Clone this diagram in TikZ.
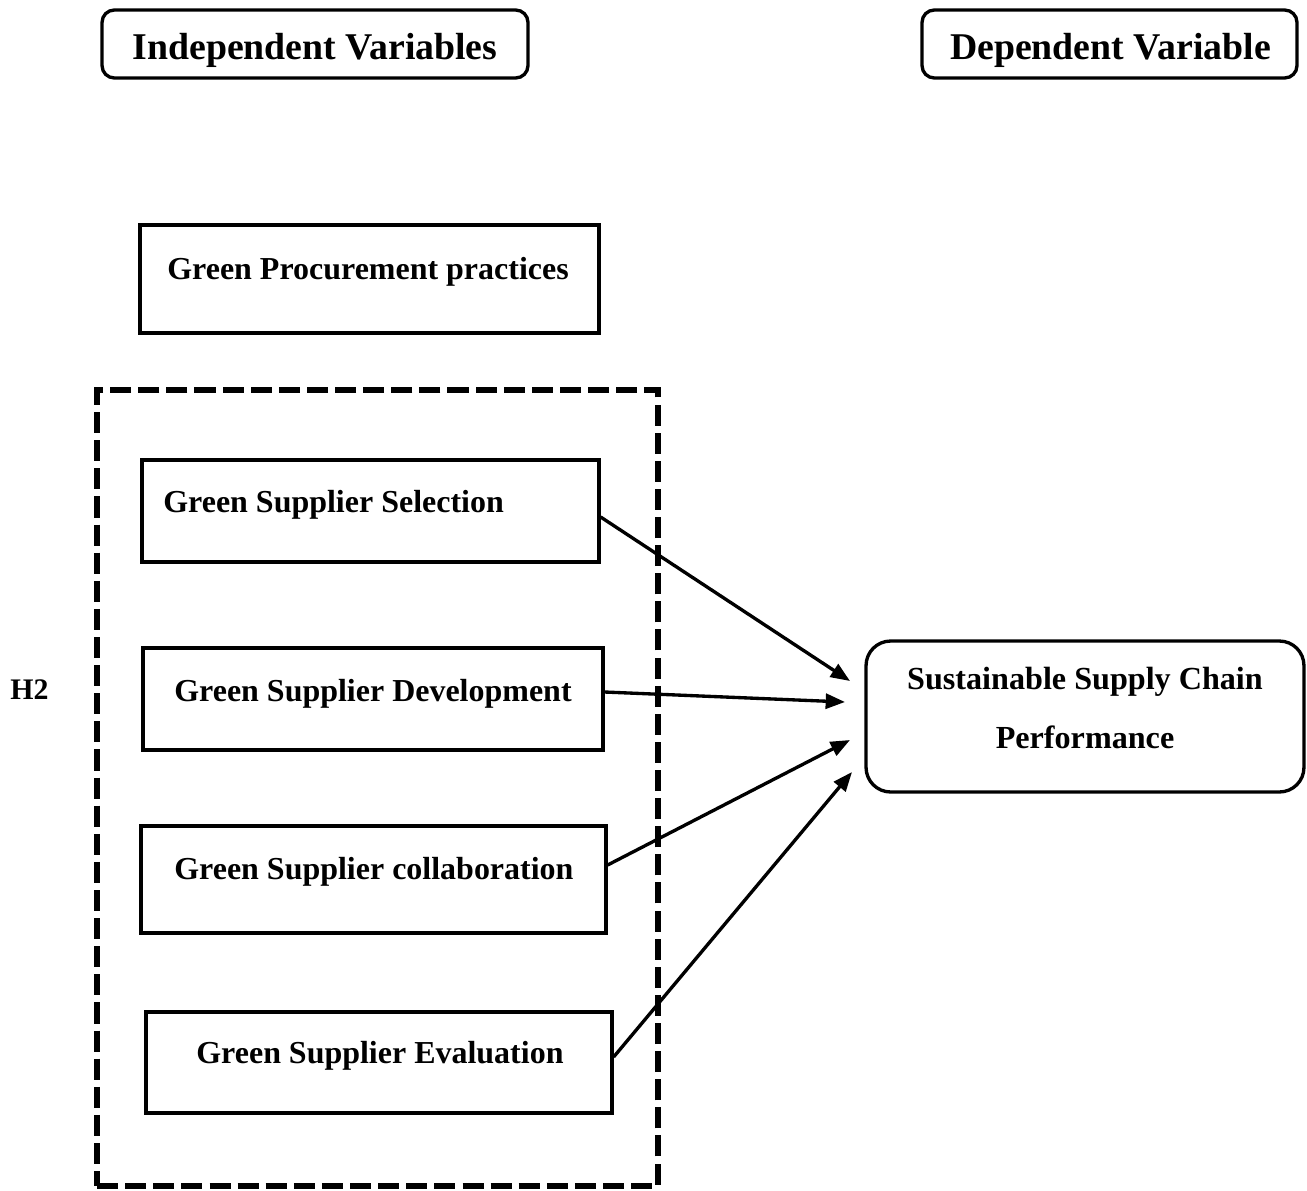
\documentclass[tikz,border=0pt]{standalone}
\usepackage{fontspec}
\setmainfont{Liberation Serif}
\usetikzlibrary{arrows.meta, positioning}

\begin{document}
\begin{tikzpicture}[
	x=0.02cm, y=-0.02cm,
	head box/.style={draw, line width=1.9pt, rounded corners=7pt, inner sep=0pt},
	head label/.style={anchor=base, inner sep=0pt, font=\fontsize{21.5}{25}\selectfont\bfseries},
	var box/.style={draw, line width=1.9pt, inner sep=0pt},
	var label/.style={anchor=base west, inner sep=0pt, font=\fontsize{18.2}{22}\selectfont\bfseries},
	group box/.style={draw, line width=3.3pt, dash pattern=on 12pt off 4pt, inner sep=0pt},
	effect arrow/.style={-{Triangle[length=11pt, width=8.5pt]}, line width=1.9pt},
	]
	
	\useasboundingbox (0,0) rectangle (1307,1190);
	
	% Headers
	\node[head box, minimum width=8.52cm, minimum height=1.36cm] (indep) at (315,44) {};
	\node[head label] (indeplabel) at (315,59) {Independent Variables};
	\node[head box, minimum width=7.5cm, minimum height=1.36cm] (dep) at (1109.5,44) {};
	\node[head label] (deplabel) at (1110.5,59) {Dependent Variable};
	
	% LEFT SIDE - Independent variables
	\node[var box, minimum width=9.18cm, minimum height=2.16cm] (gpp) at (369.5,279) {};
	\node[var label] (gpplabel) at (167,279) {Green Procurement practices};
	
	\node[group box, minimum width=11.22cm, minimum height=15.92cm] (group) at (377.5,788) {};
	
	\node[var box, minimum width=9.14cm, minimum height=2.04cm] (sel) at (370.5,511) {};
	\node[var label] (sellabel) at (163,512) {Green Supplier Selection};
	
	\node[var box, minimum width=9.2cm, minimum height=2.04cm] (dev) at (373,699) {};
	\node[var label] (devlabel) at (174,701) {Green Supplier Development};
	
	\node[var box, minimum width=9.3cm, minimum height=2.14cm] (col) at (373.5,879.5) {};
	\node[var label] (collabel) at (174,879) {Green Supplier collaboration};
	
	\node[var box, minimum width=9.32cm, minimum height=2.02cm] (eva) at (379,1062.5) {};
	\node[var label] (evalabel) at (196,1063) {Green Supplier Evaluation};
	
	\node[anchor=base west, inner sep=0pt, font=\fontsize{17}{20}\selectfont\bfseries] (hyp) at (10,699) {H2};
	
	% RIGHT SIDE - Dependent variable
	\node[draw, line width=1.9pt, rounded corners=14pt, minimum width=8.76cm, minimum height=3.02cm] (perf) at (1085,716.5) {};
	\node[anchor=base, inner sep=0pt, align=center, font=\fontsize{18.3}{33.4}\selectfont\bfseries] (perflabel) at (1085,748) {Sustainable Supply Chain\\Performance};
	
	% Arrow ends
	\coordinate (t1) at (850,681);
	\coordinate (t2) at (845,702);
	\coordinate (t3) at (850,740);
	\coordinate (t4) at (852,772);
	
	\draw[effect arrow] ([yshift=-0.12cm]sel.east) -- (t1);
	\draw[effect arrow] ([yshift=0.14cm]dev.east) -- (t2);
	\draw[effect arrow] ([yshift=0.29cm]col.east) -- (t3);
	\draw[effect arrow] ([yshift=0.11cm]eva.east) -- (t4);
	
\end{tikzpicture}
\end{document}
